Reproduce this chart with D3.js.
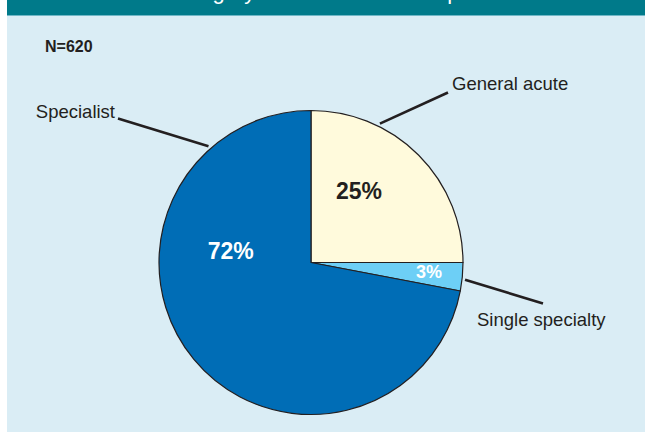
<!DOCTYPE html>
<html>
<head>
<meta charset="utf-8">
<script src="https://cdn.jsdelivr.net/npm/d3@7"></script>
<style>
  html, body { margin: 0; padding: 0; background: #ffffff; }
  svg { display: block; font-family: "Liberation Sans", Arial, Helvetica, sans-serif; }
</style>
</head>
<body>
<div id="chart"></div>
<script>
// ---------------------------------------------------------
// DATA
// ---------------------------------------------------------
const categories = ["General acute", "Single specialty", "Specialist"];
const shares = [25, 3, 72];
const shareLabels = ["25%", "3%", "72%"];
const sampleSize = "N=620";
const titleText = "Category of trusts in the sample";

// ---------------------------------------------------------
// SETUP
// ---------------------------------------------------------
const width = 645;
const height = 432;
const cx = 311, cy = 262.5, radius = 152;

const color = d3.scaleOrdinal()
    .domain(categories)
    .range(["#fffadc", "#6dcff6", "#006db6"]);

const svg = d3.select("#chart")
    .append("svg")
    .attr("width", width)
    .attr("height", height);

// panel background + header bar
svg.append("rect").attr("x", 7).attr("y", 16).attr("width", width - 7).attr("height", height - 16)
    .attr("fill", "#daedf5");
svg.append("rect").attr("x", 7).attr("y", 0).attr("width", width - 7).attr("height", 15)
    .attr("fill", "#007a8a");
svg.append("rect").attr("x", 7).attr("y", 15).attr("width", width - 7).attr("height", 1)
    .attr("fill", "#6fb7c6");

// title is cut off by the top edge: only descenders show
svg.append("text")
    .attr("x", 166).attr("y", -1.5)
    .attr("fill", "#ffffff")
    .attr("font-size", 22)
    .text(titleText);

svg.append("text")
    .attr("x", 45).attr("y", 52)
    .attr("font-size", 16).attr("font-weight", "bold")
    .attr("fill", "#231f20")
    .text(sampleSize);

// ---------------------------------------------------------
// PIE
// ---------------------------------------------------------
const data = categories.map((c, i) => ({ category: c, value: shares[i], label: shareLabels[i] }));

const pie = d3.pie().value(d => d.value).sort(null);
const arc = d3.arc().innerRadius(0).outerRadius(radius);

const g = svg.append("g").attr("transform", `translate(${cx},${cy})`);

const slices = pie(data);

g.selectAll("path")
    .data(slices)
    .enter()
    .append("path")
    .attr("d", arc)
    .attr("fill", d => color(d.data.category))
    .attr("stroke", "#231f20")
    .attr("stroke-width", 1.2)
    .attr("stroke-linejoin", "round");

// percentage labels (angle in degrees clockwise from 12 o'clock, radius)
const pctPlace = {
    "General acute":    { ang: 33.9, r: 86, size: 23, fill: "#231f20" },
    "Single specialty": { ang: 94.3, r: 118.3, size: 18, fill: "#ffffff" },
    "Specialist":       { ang: 278, r: 81, size: 23, fill: "#ffffff" }
};
const polar = (ang, r) => {
    const a = ang * Math.PI / 180;
    return [r * Math.sin(a), -r * Math.cos(a)];
};

g.selectAll("text.pct")
    .data(slices)
    .enter()
    .append("text")
    .attr("class", "pct")
    .each(function(d) {
        const p = pctPlace[d.data.category];
        const [x, y] = polar(p.ang, p.r);
        d3.select(this)
            .attr("x", x).attr("y", y)
            .attr("dy", "0.35em")
            .attr("text-anchor", "middle")
            .attr("font-size", p.size)
            .attr("font-weight", "bold")
            .attr("fill", p.fill)
            .text(d.data.label);
    });

// category labels with leader lines
const leaders = {
    "General acute":    { ang: 26.4, end: [137, -170], text: [141, -173], anchor: "start" },
    "Single specialty": { ang: 96.4, end: [232, 41], text: [166, 63], anchor: "start" },
    "Specialist":       { ang: 318.6, end: [-193, -144], text: [-196, -145], anchor: "end" }
};

slices.forEach(d => {
    const L = leaders[d.data.category];
    const [x0, y0] = polar(L.ang, radius + 3);
    g.append("line")
        .attr("x1", x0).attr("y1", y0)
        .attr("x2", L.end[0]).attr("y2", L.end[1])
        .attr("stroke", "#231f20")
        .attr("stroke-width", 2.6);
    g.append("text")
        .attr("x", L.text[0]).attr("y", L.text[1])
        .attr("text-anchor", L.anchor)
        .attr("font-size", 18.5)
        .attr("fill", "#231f20")
        .text(d.data.category);
});
</script>
</body>
</html>
